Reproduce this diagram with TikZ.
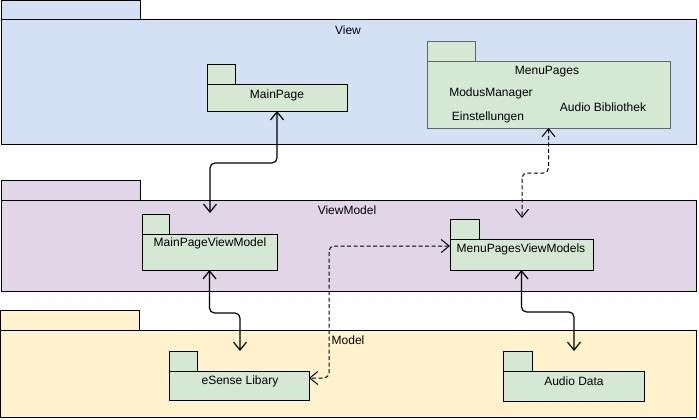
\documentclass[tikz,border=0pt]{standalone}
\usepackage{fontspec}
\setmainfont{Liberation Sans}
\usetikzlibrary{arrows.meta}
\definecolor{viewfill}{HTML}{D4E1F5}
\definecolor{vmfill}{HTML}{E1D5E7}
\definecolor{modelfill}{HTML}{FFF2CC}
\definecolor{pkgfill}{HTML}{D5E8D4}
\definecolor{grayline}{HTML}{666666}
\begin{document}
\begin{tikzpicture}[x=1pt,y=-1pt,
  box/.style={draw=black, line width=1pt, inner sep=0pt, outer sep=0pt},
  lbl/.style={inner sep=0pt, font=\fontsize{12}{14}\selectfont, text=black},
  conn/.style={line width=1.2pt, rounded corners=5pt,
     {Straight Barb[length=8pt,width=13pt]}-{Straight Barb[length=8pt,width=13pt]}},
  dconn/.style={conn, line width=1pt, dash pattern=on 4pt off 2.5pt}]
\useasboundingbox (0,0) rectangle (699,420);
% View
\node[box, fill=viewfill, minimum width=138.5pt, minimum height=19.5pt] (viewtab) at (70.75,10.25) {};
\node[box, fill=viewfill, minimum width=694.5pt, minimum height=124pt] (view) at (348.75,82) {};
\node[lbl] (viewlbl) at (348,30) {View};
\node[box, fill=pkgfill, minimum width=28pt, minimum height=20pt] (mptab) at (221,75) {};
\node[box, fill=pkgfill, minimum width=140pt, minimum height=26pt] (mp) at (277,98) {};
\node[lbl] (mplbl) at (277,95) {MainPage};
\node[box, draw=grayline, fill=pkgfill, minimum width=48pt, minimum height=20pt] (mnptab) at (451,52) {};
\node[box, draw=grayline, fill=pkgfill, minimum width=243pt, minimum height=66pt] (mnp) at (548.5,95) {};
\node[lbl] (mnplbl) at (547,72) {MenuPages};
\node[lbl] (modus) at (491,93) {ModusManager};
\node[lbl] (einst) at (488,117) {Einstellungen};
\node[lbl] (audiob) at (603,107) {Audio Bibliothek};
% ViewModel
\node[box, fill=vmfill, minimum width=138.5pt, minimum height=20pt] (vmtab) at (70.75,190) {};
\node[box, fill=vmfill, minimum width=694.5pt, minimum height=91pt] (vm) at (348.75,245.5) {};
\node[lbl] (vmlbl) at (347,210) {ViewModel};
\node[box, fill=pkgfill, minimum width=27pt, minimum height=20pt] (mpvmtab) at (155.5,224) {};
\node[box, fill=pkgfill, minimum width=135pt, minimum height=36pt] (mpvm) at (209.5,252) {};
\node[lbl] (mpvmlbl) at (210,243) {MainPageViewModel};
\node[box, fill=pkgfill, minimum width=29pt, minimum height=20pt] (mnpvmtab) at (464.5,229) {};
\node[box, fill=pkgfill, minimum width=143pt, minimum height=31pt] (mnpvm) at (521.5,254.5) {};
\node[lbl] (mnpvmlbl) at (521,249) {MenuPagesViewModels};
% Model
\node[box, fill=modelfill, minimum width=138.5pt, minimum height=20pt] (mtab) at (69.75,320) {};
\node[box, fill=modelfill, minimum width=695.5pt, minimum height=87pt] (model) at (348.25,373.5) {};
\node[lbl] (mlbl) at (348,340) {Model};
\node[box, fill=pkgfill, minimum width=28pt, minimum height=20pt] (estab) at (183,361) {};
\node[box, fill=pkgfill, minimum width=140pt, minimum height=29pt] (es) at (239,385.5) {};
\node[lbl] (eslbl) at (240,381) {eSense Libary};
\node[box, fill=pkgfill, minimum width=29pt, minimum height=20pt] (adtab) at (517.5,361) {};
\node[box, fill=pkgfill, minimum width=141pt, minimum height=30pt] (ad) at (573.5,386) {};
\node[lbl] (adlbl) at (574,381) {Audio Data};
% free ends
\coordinate (e1) at (210,213);
\coordinate (e2) at (522,218);
\coordinate (e3) at (240,351);
\coordinate (e4) at (574,351);
% connectors
\draw[conn] (mp.south) -- (277,163) -- (210,163) -- (e1);
\draw[dconn] (mnp.south) -- (548.5,173) -- (522,173) -- (e2);
\draw[conn] (mpvm.south) -- (209.5,313) -- (240,313) -- (e3);
\draw[conn] (mnpvm.south) -- (521.5,312) -- (574,312) -- (e4);
\draw[dconn] ([yshift=8.5pt]mnpvm.west) -- (329,246) -- (329,378) -- ([yshift=7.5pt]es.east);
\end{tikzpicture}
\end{document}
